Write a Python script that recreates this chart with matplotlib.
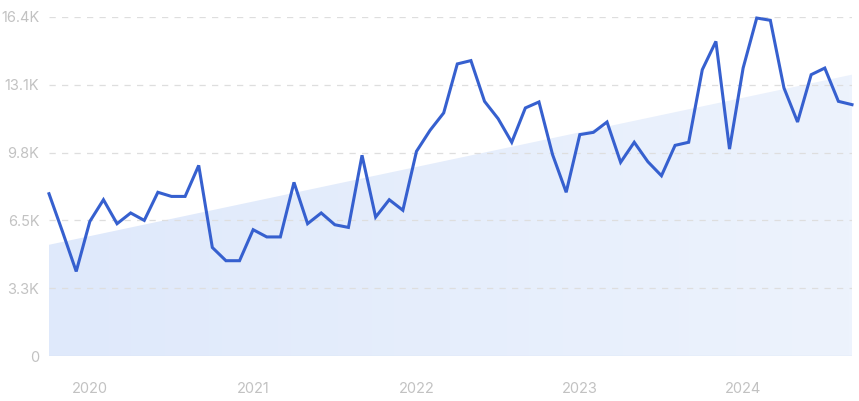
import numpy as np
import matplotlib.pyplot as plt
from matplotlib.colors import LinearSegmentedColormap

# monthly values (thousands), starting Oct 2019
values = [7.85, 6.0, 4.09, 6.51, 7.56, 6.40, 6.92, 6.56, 7.92, 7.72, 7.72, 9.22,
          5.25, 4.61, 4.61, 6.11, 5.76, 5.76, 8.40, 6.40, 6.92, 6.35, 6.22, 9.71,
          6.72, 7.56, 7.05, 9.90, 10.92, 11.76, 14.13, 14.29, 12.32, 11.48, 10.34, 12.00,
          12.29, 9.74, 7.92, 10.71, 10.82, 11.32, 9.37, 10.34, 9.40, 8.72, 10.19, 10.34,
          13.85, 15.22, 10.01, 13.93, 16.35, 16.24, 12.97, 11.32, 13.61, 13.93, 12.32, 12.16]
trend_ends = [5.38, 13.61]
year_labels = ["2020", "2021", "2022", "2023", "2024"]
year_pos = [3, 15, 27, 39, 51]
ytick_vals = [0, 3.28, 6.56, 9.84, 13.12, 16.4]
ytick_labels = ["0", "3.3K", "6.5K", "9.8K", "13.1K", "16.4K"]

plt.rcParams['font.family'] = ['Inter', 'DejaVu Sans']

fig = plt.figure(figsize=(8.59, 4.01), dpi=100)
ax = fig.add_axes([49 / 859, 45 / 401, 803 / 859, 339 / 401])

x = np.arange(len(values))
x_end = len(values) - 1

# trend area with soft gradient
poly = ax.fill_between([0, x_end], [0, 0], trend_ends, color='none', lw=0)
cmap = LinearSegmentedColormap.from_list('g', ['#dfe9fb', '#edf3fd'])
grad = np.linspace(0, 1, 256).reshape(1, -1)
img = ax.imshow(grad, extent=[0, x_end, 0, 16.4], aspect='auto', cmap=cmap,
                origin='lower', zorder=1)
img.set_clip_path(poly.get_paths()[0], transform=ax.transData)

# grid
for v in ytick_vals[1:]:
    ax.axhline(v, color='#dedede', lw=0.9, ls=(0, (5, 5)), zorder=2)
ax.axhline(0, color='#d8e3f5', lw=1.0, zorder=2)

ax.plot(x, values, color='#3660cf', lw=2.2, zorder=3, clip_on=False,
        solid_joinstyle='miter')

ax.set_xlim(0, x_end)
ax.set_ylim(0, 16.4)
ax.set_yticks(ytick_vals)
ax.set_yticklabels(ytick_labels)
ax.set_xticks(year_pos)
ax.set_xticklabels(year_labels)
ax.tick_params(length=0, labelsize=10.5, colors='#c2c2c2')
ax.tick_params(axis='y', pad=7)
ax.tick_params(axis='x', pad=19)
for s in ax.spines.values():
    s.set_visible(False)

fig.savefig('out.png', dpi=100)
